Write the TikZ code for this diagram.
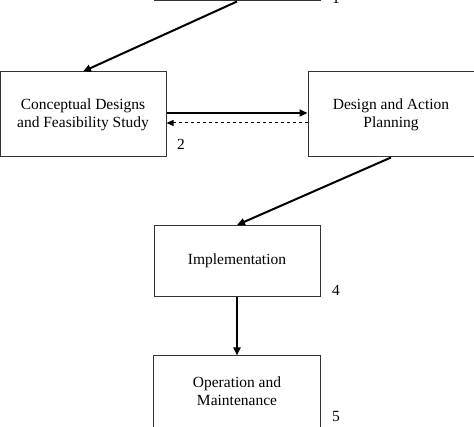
\documentclass[tikz,border=0pt]{standalone}
\usepackage{fontspec}
\setmainfont{Liberation Serif}
\usetikzlibrary{arrows.meta}

\begin{document}
\begin{tikzpicture}[
        x=1pt, y=1pt,
        % boxes of the process
        stage/.style={draw=black!80, line width=1pt, minimum width=166pt, align=center, inner sep=0pt,
            font=\fontsize{15.5}{18}\selectfont},
        % step numbers beside the boxes
        stepnum/.style={font=\fontsize{15.5}{18}\selectfont, inner sep=0pt},
        flow/.style={line width=2pt, -{Triangle[length=8pt, width=7pt]}},
        back/.style={line width=1pt, dashed, -{Triangle[length=7pt, width=6pt]}},
    ]
    \useasboundingbox (0,0) rectangle (474,-427);
    \node [stage, minimum height=85pt] (start) at (237,41.5) {};
    \node [stage, minimum height=85pt] (concept) at (83,-114.5) {Conceptual Designs\\and Feasibility Study};
    \node [stage, minimum height=85pt] (plan) at (391,-114.5) {Design and Action\\Planning};
    \node [stage, minimum height=71pt] (impl) at (237,-261) {Implementation};
    \node [stage, draw=none, minimum height=71pt] (operate) at (237,-391.5) {Operation and\\Maintenance};
    % last box runs on below the page
    \draw [draw=black!80, line width=1pt] (operate.north west) rectangle ([yshift=-20pt]operate.south east);

    % numbers
    \node [stepnum] (n1) at (336,2) {1};
    \node [stepnum] (n2) at (181,-144) {2};
    \node [stepnum] (n4) at (336,-290) {4};
    \node [stepnum] (n5) at (336,-417) {5};

    \draw [flow] (start.south) -- (concept.north);
    \draw [flow] ([yshift=1.5pt]concept.east) -- ([yshift=1.5pt]plan.west);
    \draw [back] ([yshift=-8.5pt]plan.west) -- ([yshift=-8.5pt]concept.east);
    \draw [flow] (plan.south) -- (impl.north);
    \draw [flow] (impl.south) -- (operate.north);
\end{tikzpicture}
\end{document}
